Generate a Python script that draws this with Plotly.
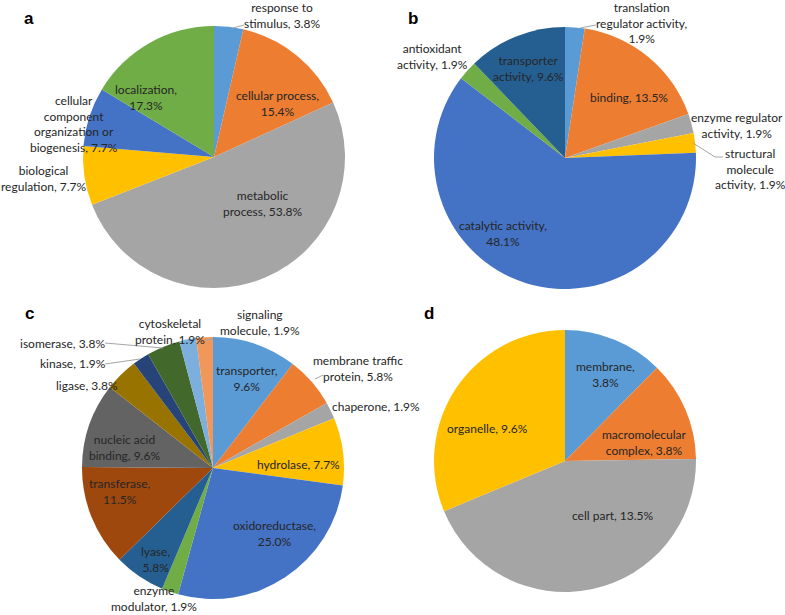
import plotly.graph_objects as go

W, H = 785, 615

# ---------------- data ----------------
a_labels = ["response to stimulus", "cellular process", "metabolic process",
            "biological regulation", "cellular component organization or biogenesis",
            "localization"]
a_values = [3.8, 15.4, 53.8, 7.7, 7.7, 17.3]

b_labels = ["translation regulator activity", "binding", "enzyme regulator activity",
            "structural molecule activity", "catalytic activity", "antioxidant activity",
            "transporter activity"]
b_values = [1.9, 13.5, 1.9, 1.9, 48.1, 1.9, 9.6]

c_labels = ["transporter", "membrane traffic protein", "chaperone", "hydrolase",
            "oxidoreductase", "enzyme modulator", "lyase", "transferase",
            "nucleic acid binding", "ligase", "kinase", "isomerase",
            "cytoskeletal protein", "signaling molecule"]
c_values = [9.6, 5.8, 1.9, 7.7, 25.0, 1.9, 5.8, 11.5, 9.6, 3.8, 1.9, 3.8, 1.9, 1.9]

d_labels = ["membrane", "macromolecular complex", "cell part", "organelle"]
d_values = [3.8, 3.8, 13.5, 9.6]

# ---------------- styles ----------------
palette = ["#5B9BD5", "#ED7D31", "#A5A5A5", "#FFC000", "#4472C4", "#70AD47",
           "#255E91", "#9E480E", "#636363", "#997300", "#264478", "#43682B",
           "#7CAFDD", "#F1975A"]
FONT = "Lato"
TXT = "#262626"

def px_to_paper(x, y):
    return x / W, 1 - y / H

def domain(cx, cy, r):
    x0, y1 = px_to_paper(cx - r, cy - r)
    x1, y0 = px_to_paper(cx + r, cy + r)
    return dict(x=[x0, x1], y=[y0, y1])

fig = go.Figure()
panels = [
    (a_labels, a_values, (214, 157, 131)),
    (b_labels, b_values, (565, 158, 131)),
    (c_labels, c_values, (213, 468, 131)),
    (d_labels, d_values, (565, 461, 131)),
]
for labels, values, (cx, cy, r) in panels:
    fig.add_trace(go.Pie(
        labels=labels, values=values, sort=False, direction="clockwise",
        rotation=0, textinfo="none", hoverinfo="label+percent",
        marker=dict(colors=palette[:len(values)], line=dict(width=0)),
        domain=domain(cx, cy, r), showlegend=False,
    ))

def pct(v):
    return f"{v:.1f}%"

# label text and pixel placement (text block centres)
label_specs = [
    # panel a
    (f"response to<br>stimulus, {pct(a_values[0])}", 282, 15),
    (f"cellular process,<br>{pct(a_values[1])}", 277, 103),
    (f"metabolic<br>process, {pct(a_values[2])}", 263, 203),
    (f"biological<br>regulation, {pct(a_values[3])}", 44, 178),
    (f"cellular<br>component<br>organization or<br>biogenesis, {pct(a_values[4])}", 74, 124),
    (f"localization,<br>{pct(a_values[5])}", 146, 97),
    # panel b
    (f"translation<br>regulator activity,<br>{pct(b_values[0])}", 642, 23),
    (f"binding, {pct(b_values[1])}", 629, 97),
    (f"enzyme regulator<br>activity, {pct(b_values[2])}", 737, 125),
    (f"structural<br>molecule<br>activity, {pct(b_values[3])}", 750, 169),
    (f"catalytic activity,<br>{pct(b_values[4])}", 503, 233),
    (f"antioxidant<br>activity, {pct(b_values[5])}", 432, 56),
    (f"transporter<br>activity, {pct(b_values[6])}", 528, 68),
    # panel c
    (f"transporter,<br>{pct(c_values[0])}", 247, 378),
    (f"membrane traffic<br>protein, {pct(c_values[1])}", 358, 368),
    (f"chaperone, {pct(c_values[2])}", 376, 406),
    (f"hydrolase, {pct(c_values[3])}", 298, 464),
    (f"oxidoreductase,<br>{pct(c_values[4])}", 274, 533),
    (f"enzyme<br>modulator, {pct(c_values[5])}", 154, 598),
    (f"lyase,<br>{pct(c_values[6])}", 155, 559),
    (f"transferase,<br>{pct(c_values[7])}", 120, 491),
    (f"nucleic acid<br>binding, {pct(c_values[8])}", 124, 447),
    (f"ligase, {pct(c_values[9])}", 87, 385),
    (f"kinase, {pct(c_values[10])}", 73, 363),
    (f"isomerase, {pct(c_values[11])}", 62, 343),
    (f"cytoskeletal<br>protein, {pct(c_values[12])}", 170, 331),
    (f"signaling<br>molecule, {pct(c_values[13])}", 260, 323),
    # panel d
    (f"membrane,<br>{pct(d_values[0])}", 605, 374),
    (f"macromolecular<br>complex, {pct(d_values[1])}", 644, 442),
    (f"cell part, {pct(d_values[2])}", 613, 515),
    (f"organelle, {pct(d_values[3])}", 487, 429),
]

annotations = []
for text, x, y in label_specs:
    px, py = px_to_paper(x, y)
    annotations.append(dict(text=text, x=px, y=py, xref="paper", yref="paper",
                            xanchor="center", yanchor="middle", showarrow=False,
                            font=dict(family=FONT, size=12, color=TXT)))

for letter, x, y in [("a", 29, 18), ("b", 413, 18), ("c", 29, 313), ("d", 429, 313)]:
    px, py = px_to_paper(x, y)
    annotations.append(dict(text=f"<b>{letter}</b>", x=px, y=py, xref="paper", yref="paper",
                            xanchor="center", yanchor="middle", showarrow=False,
                            font=dict(family="Liberation Sans", size=17, color="#000000")))

# leader lines (pixel polylines)
leaders = [
    [(233, 28), (244, 25)],
    [(580, 28), (596, 25)],
    [(693, 143), (715, 157), (723, 157)],
    [(105, 343), (163, 348)],
    [(105, 364), (140, 359)],
    [(205, 340), (213, 339)],
    [(315, 379), (323, 375)],
]
shapes = []
for pts in leaders:
    for (x0, y0), (x1, y1) in zip(pts[:-1], pts[1:]):
        p0 = px_to_paper(x0, y0)
        p1 = px_to_paper(x1, y1)
        shapes.append(dict(type="line", xref="paper", yref="paper",
                           x0=p0[0], y0=p0[1], x1=p1[0], y1=p1[1],
                           line=dict(color="#A6A6A6", width=1)))

fig.update_layout(width=W, height=H, margin=dict(l=0, r=0, t=0, b=0),
                  paper_bgcolor="white", plot_bgcolor="white",
                  annotations=annotations, shapes=shapes)

fig.write_html("out.html",
               config={"displayModeBar": False},
               post_script="document.body.style.margin='0px';"
                           "document.body.style.overflow='hidden';")
